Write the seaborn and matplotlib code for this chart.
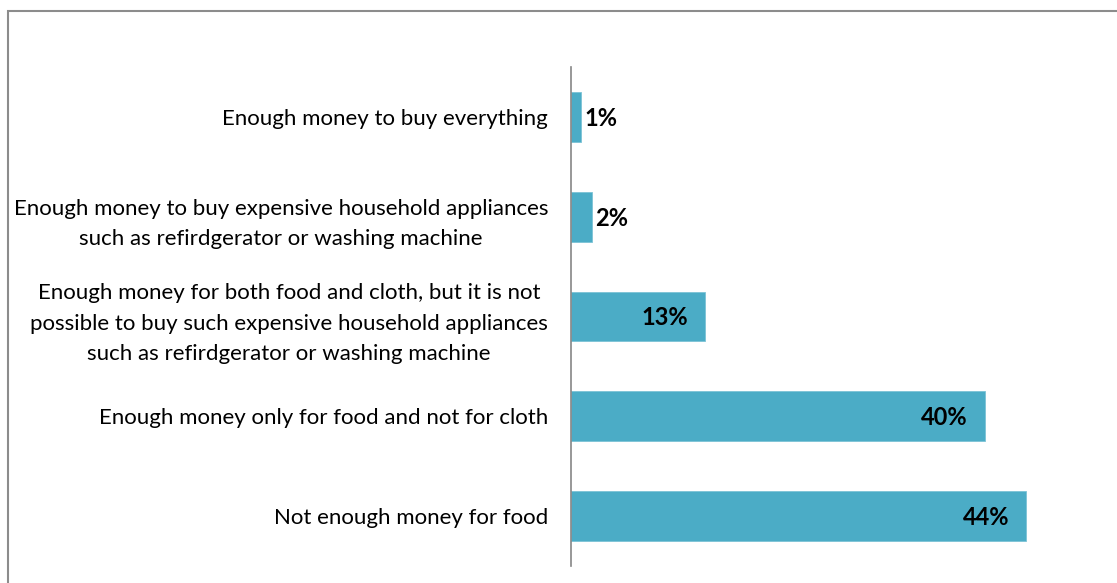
import matplotlib
matplotlib.use("Agg")
import matplotlib.pyplot as plt
from matplotlib.patches import Rectangle
import seaborn as sns
import pandas as pd

categories = [
    "Enough money to buy everything",
    "Enough money to buy expensive household appliances\nsuch as refirdgerator or washing machine",
    "Enough money for both food and cloth, but it is not\npossible to buy such expensive household appliances\nsuch as refirdgerator or washing machine",
    "Enough money only for food and not for cloth",
    "Not enough money for food",
]
shares = [1, 2, 13, 40, 44]
value_labels = ["1%", "2%", "13%", "40%", "44%"]

BAR_COLOR = "#4BACC6"
AXIS_GREY = "#868686"

sns.set_theme(style="white")
plt.rcParams["font.family"] = ["Lato", "DejaVu Sans"]

df = pd.DataFrame({"category": categories, "share": shares})

fig = plt.figure(figsize=(11.17, 5.83), dpi=100)
ax = fig.add_axes([571 / 1117, 17 / 583, 517 / 1117, 499 / 583])

sns.barplot(data=df, y="category", x="share", orient="h", color=BAR_COLOR,
            saturation=1, width=0.5, edgecolor="#7CC3D6", linewidth=0.6, ax=ax)

ax.set_xlim(0, 50)
ax.set_ylim(4.5, -0.5)
ax.set_xlabel("")
ax.set_ylabel("")
ax.set_xticks([])
for side in ("top", "right", "bottom"):
    ax.spines[side].set_visible(False)
ax.spines["left"].set_color(AXIS_GREY)
ax.spines["left"].set_linewidth(1.2)
ax.tick_params(axis="y", length=0, pad=16.5)
for lbl in ax.get_yticklabels():
    lbl.set_fontsize(16)
    lbl.set_color("#000000")
    lbl.set_horizontalalignment("right")
    lbl.set_multialignment("center")
    lbl.set_linespacing(1.63)

# value labels: small bars get the label outside, long bars inside the end
for i, (v, t) in enumerate(zip(shares, value_labels)):
    if v < 5:
        ax.annotate(t, (v, i), xytext=(3, -2), textcoords="offset pixels",
                    ha="left", va="center", fontsize=17, fontweight="bold",
                    color="#000000")
    else:
        ax.annotate(t, (v, i), xytext=(-17, -1), textcoords="offset pixels",
                    ha="right", va="center", fontsize=17, fontweight="bold",
                    color="#000000")

# chart frame
fig.patches.append(Rectangle((8 / 1117, -0.1), 1.2, (583 - 11) / 583 + 0.1,
                             transform=fig.transFigure, fill=False,
                             edgecolor="#8C8C8C", linewidth=1.5))

fig.savefig("out.png", dpi=100, facecolor="white")
